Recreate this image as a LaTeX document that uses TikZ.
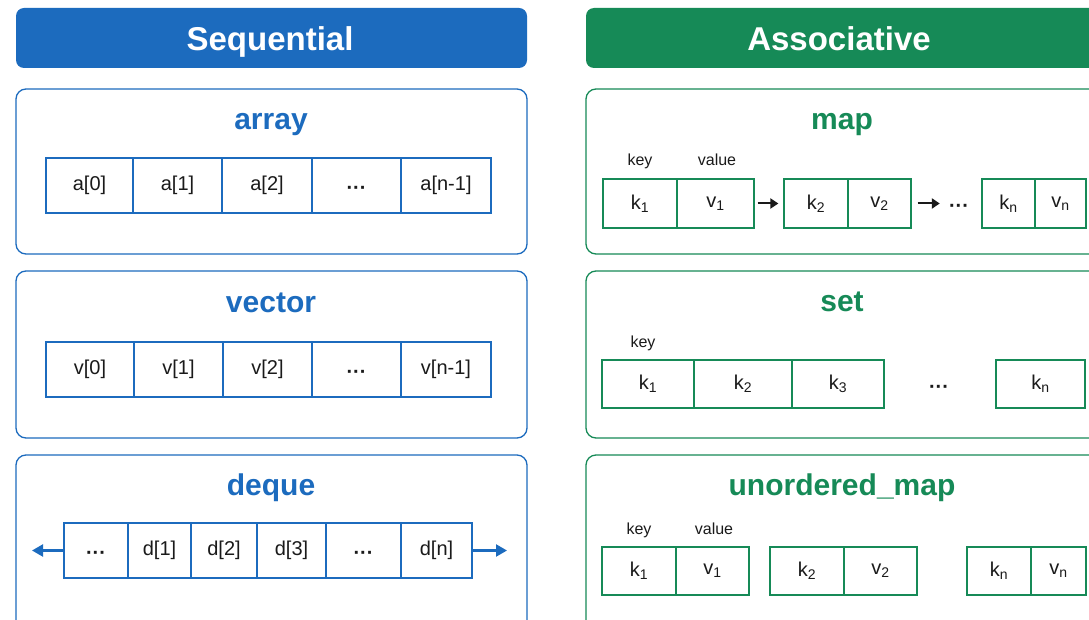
\documentclass[tikz,border=0pt]{standalone}
\usepackage{fontspec}
\setmainfont{Liberation Sans}
\usetikzlibrary{arrows.meta, positioning}

\begin{document}
\begin{tikzpicture}[
    x=1pt, y=-1pt,
    every node/.style={font=\fontsize{20}{24}\selectfont, text=ink},
    headtext/.style={font=\fontsize{33}{38}\selectfont\bfseries, text=white, anchor=base},
    boxtitle/.style={font=\fontsize{30}{34}\selectfont\bfseries, anchor=base},
    smalllabel/.style={font=\fontsize{16}{19}\selectfont, anchor=base},
    seqcell/.style={draw=seqblue, line width=1.3pt, inner sep=0pt},
    ascell/.style={draw=asgreen, line width=1.3pt, inner sep=0pt},
    seqframe/.style={draw=seqblue, line width=1.3pt, rounded corners=10pt},
    asframe/.style={draw=asgreen, line width=1.3pt, rounded corners=10pt},
    dqarrow/.style={draw=seqblue, line width=2.2pt, -{Triangle[length=11pt, width=12pt]}},
    maparrow/.style={draw=ink, line width=2pt, -{Triangle[length=8pt, width=10pt]}},
]

% ---------------------------------------------------------------- colours
\definecolor{seqblue}{HTML}{1C6BBE}   % sequential side
\definecolor{asgreen}{HTML}{168A57}   % associative side
\definecolor{ink}{HTML}{1A1A1A}

\def\midots{\vphantom{[}\raisebox{-0.22em}{\textbf{\textperiodcentered\textperiodcentered\textperiodcentered}}}

\useasboundingbox (0,0) rectangle (1089,620);
\fill[white] (0,0) rectangle (1089,620);

% ================================================================
% two columns, all in pixel units of the page (y grows downwards)
%   left   x = 16 .. 527
%   right  x = 586 .. (runs off the page)
% ================================================================

% ---------------------------------------------------------------- headers
\fill[seqblue, rounded corners=8pt] (16,8) rectangle (527,68);
\fill[asgreen, rounded corners=8pt] (586,8) rectangle (1100,68);
\node[headtext] (seqhead) at (270,50.5) {Sequential};
\node[headtext] (ashead) at (839,50.5) {Associative};

% ---------------------------------------------------------------- frames
\draw[seqframe] (16,89) rectangle (527,254);
\draw[seqframe] (16,271) rectangle (527,438);
\draw[seqframe] (16,455) rectangle (527,632);
\draw[asframe] (586,89) rectangle (1100,254);
\draw[asframe] (586,271) rectangle (1100,438);
\draw[asframe] (586,455) rectangle (1100,632);

\node[boxtitle, text=seqblue] (tarray) at (271,130) {array};
\node[boxtitle, text=seqblue] (tvector) at (271,312.5) {vector};
\node[boxtitle, text=seqblue] (tdeque) at (271,495) {deque};
\node[boxtitle, text=asgreen] (tmap) at (842,129.5) {map};
\node[boxtitle, text=asgreen] (tset) at (842,311.5) {set};
\node[boxtitle, text=asgreen] (tumap) at (842,495) {unordered\_map};

% ---------------------------------------------------------------- array / vector
% left edge / right edge / text
\foreach \l/\r/\t [count=\i] in {46/133/{a[0]}, 133/222/{a[1]}, 222/312/{a[2]},
        312/401/{\midots}, 401/491/{a[n-1]}}
    \node[seqcell, minimum width={(\r-\l)*1pt}, minimum height=55pt]
        (a\i) at ({(\l+\r)/2}, 185.5) {\t};

\foreach \l/\r/\t [count=\i] in {46/134/{v[0]}, 134/223/{v[1]}, 223/312/{v[2]},
        312/401/{\midots}, 401/491/{v[n-1]}}
    \node[seqcell, minimum width={(\r-\l)*1pt}, minimum height=55pt]
        (v\i) at ({(\l+\r)/2}, 369.5) {\t};

% ---------------------------------------------------------------- deque
\foreach \l/\r/\t [count=\i] in {64/128/{\midots}, 128/191/{d[1]}, 191/257/{d[2]},
        257/326/{d[3]}, 326/401/{\midots}, 401/472/{d[n]}}
    \node[seqcell, minimum width={(\r-\l)*1pt}, minimum height=55pt]
        (d\i) at ({(\l+\r)/2}, 550.5) {\t};

\coordinate (dqleft) at (32,550.5);
\coordinate (dqright) at (507,550.5);
\draw[dqarrow] (d1.west) -- (dqleft);
\draw[dqarrow] (d6.east) -- (dqright);

% ---------------------------------------------------------------- map
\foreach \l/\r/\t/\n in {603/677/{k\textsubscript{1}}/mk1, 677/754/{v\textsubscript{1}}/mv1,
        784/848/{k\textsubscript{2}}/mk2, 848/911/{v\textsubscript{2}}/mv2,
        982/1035/{k\textsubscript{n}}/mkn, 1035/1086/{v\textsubscript{n}}/mvn}
    \node[ascell, minimum width={(\r-\l)*1pt}, minimum height=49pt]
        (\n) at ({(\l+\r)/2}, 203.5) {\t};

\node[smalllabel] (mkey) at (640,166) {key};
\node[smalllabel] (mvalue) at (717,166) {value};

\node[inner sep=0pt] (mdots) at (959,203.5) {\midots};
\draw[maparrow, shorten <=3pt, shorten >=5pt] (mv1) -- (mk2);
\draw[maparrow, shorten <=6pt, shorten >=9pt] (mv2) -- (mdots);

% ---------------------------------------------------------------- set
\foreach \l/\r/\t/\n in {602/694/{k\textsubscript{1}}/sk1, 694/792/{k\textsubscript{2}}/sk2,
        792/884/{k\textsubscript{3}}/sk3, 996/1085/{k\textsubscript{n}}/skn}
    \node[ascell, minimum width={(\r-\l)*1pt}, minimum height=48pt]
        (\n) at ({(\l+\r)/2}, 384) {\t};

\node[smalllabel] (skey) at (643,347) {key};
\node[inner sep=0pt] (sdots) at (939,384) {\midots};

% ---------------------------------------------------------------- unordered_map
\foreach \l/\r/\t/\n in {602/676/{k\textsubscript{1}}/uk1, 676/749/{v\textsubscript{1}}/uv1,
        770/844/{k\textsubscript{2}}/uk2, 844/917/{v\textsubscript{2}}/uv2,
        967/1031/{k\textsubscript{n}}/ukn, 1031/1086/{v\textsubscript{n}}/uvn}
    \node[ascell, minimum width={(\r-\l)*1pt}, minimum height=48pt]
        (\n) at ({(\l+\r)/2}, 571) {\t};

\node[smalllabel] (ukey) at (639,534) {key};
\node[smalllabel] (uvalue) at (714,534) {value};

\end{tikzpicture}
\end{document}
